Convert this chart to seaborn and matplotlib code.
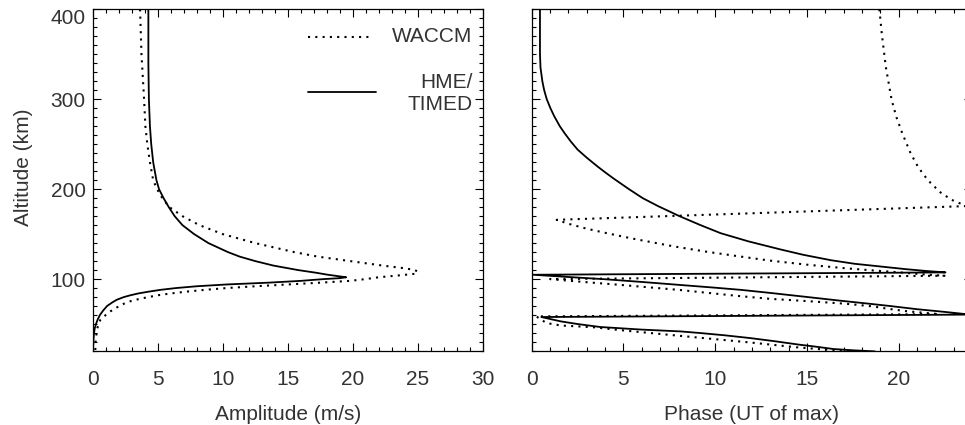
import matplotlib
matplotlib.use("Agg")
import matplotlib.pyplot as plt
from matplotlib.ticker import MultipleLocator
import seaborn as sns

# Amplitude profiles (altitude in km, amplitude in m/s)
amp_alt_hme = [400, 340, 300, 270, 250, 230, 210, 200, 190, 180, 170, 160, 150, 140,
               130, 125, 120, 115, 110, 107, 105, 103, 102, 101, 100, 98, 96, 94, 92,
               90, 88, 86, 84, 82, 80, 77, 74, 70, 65, 60, 55, 50, 45, 40, 35, 30, 25, 20]
amp_hme = [4.28, 4.28, 4.32, 4.4, 4.5, 4.65, 4.9, 5.1, 5.45, 5.85, 6.3, 6.9, 7.8, 8.9,
           10.4, 11.3, 12.5, 13.9, 15.8, 17.2, 18.0, 19.0, 19.5, 19.0, 17.8, 16.0, 13.5, 10.3, 8.0,
           6.4, 5.2, 4.3, 3.5, 2.9, 2.4, 1.85, 1.5, 1.1, 0.8, 0.55, 0.38, 0.25, 0.15, 0.1, 0.07, 0.05, 0.03, 0.02]

amp_alt_waccm = [400, 350, 300, 270, 250, 230, 210, 200, 190, 180, 170, 160, 150, 140,
                 130, 125, 120, 115, 112, 110, 108, 106, 104, 102, 100, 98, 96, 94, 92,
                 90, 88, 86, 84, 82, 80, 78, 75, 72, 68, 64, 60, 55, 50, 45, 40, 35, 30, 25, 20]
amp_waccm = [3.64, 3.75, 3.95, 4.05, 4.2, 4.4, 4.65, 4.95, 5.35, 5.9, 6.9, 8.2, 10.0, 12.5,
             15.5, 17.3, 19.8, 22.3, 24.0, 24.8, 25.0, 24.9, 23.5, 22.0, 21.0, 19.8, 17.5, 15.0, 12.5,
             10.3, 8.6, 7.2, 6.0, 5.0, 4.3, 3.6, 2.8, 2.3, 1.8, 1.35, 1.0, 0.6, 0.45, 0.35, 0.3, 0.25, 0.22, 0.2, 0.2]

# Phase profiles (UT hour of maximum), drawn in data order
phase_alt_hme = [400, 350, 335, 320, 310, 300, 290, 281, 270, 262, 253, 244, 235, 225, 218, 212,
                 200, 190, 181, 170, 160, 151, 142, 133, 127, 121, 117, 114, 111, 109, 107.4,
                 104.8, 102.3, 99.8, 96.8, 93.6, 90.4, 88.0, 84.6, 81.0, 76.0, 73.0, 70.0, 66.5, 63.5, 60.5,
                 57.8, 52.9, 50.0, 46.7, 43.8, 41.8, 40.0, 37.5, 34.4, 31.0, 27.0, 24.8, 22.2, 20.8, 19.6]
phase_hme = [0.45, 0.45, 0.48, 0.58, 0.68, 0.82, 1.02, 1.23, 1.53, 1.8, 2.13, 2.5, 3.0, 3.6, 4.05, 4.45,
             5.3, 6.05, 6.9, 8.05, 9.2, 10.3, 11.8, 13.55, 14.8, 16.3, 17.6, 19.0, 20.4, 21.5, 22.55,
             0.07, 2.0, 4.0, 6.0, 8.0, 10.0, 11.4, 13.0, 14.6, 16.8, 18.2, 19.55, 21.0, 22.5, 23.9,
             0.52, 1.6, 2.5, 3.73, 6.0, 8.1, 9.18, 10.5, 11.9, 13.2, 14.6, 15.5, 16.45, 17.5, 18.7]

phase_alt_waccm = [400, 373, 336, 299, 280, 262, 240, 225, 215, 206.7, 196, 188, 183.7, 181.3,
                   165.9, 161.5, 156.0, 151.0, 145.0, 136.5, 130.5, 125.1, 120.5, 116.0, 112.0, 109.6, 107.5, 105.2, 103.7,
                   100.0, 98.5, 96.0, 93.7, 91.5, 88.0, 81.0, 78.0, 75.5, 72.6, 69.6, 67.0, 64.2, 61.0,
                   58.5, 51.1, 48.3, 47.4, 46.3, 44.0, 41.8, 34.5, 29.5, 23.8, 20.9, 20.0]
phase_waccm = [18.95, 19.08, 19.3, 19.62, 19.88, 20.2, 20.65, 21.05, 21.4, 21.75, 22.3, 22.9, 23.4, 23.9,
               1.36, 2.0, 3.0, 4.1, 5.5, 7.7, 9.5, 11.36, 13.0, 15.0, 17.1, 18.6, 20.0, 21.36, 22.5,
               1.0, 1.82, 3.3, 4.73, 6.0, 8.0, 11.36, 13.0, 15.0, 17.1, 18.6, 19.4, 20.45, 22.2,
               0.25, 0.8, 1.6, 2.5, 3.44, 4.45, 5.54, 9.3, 11.9, 14.6, 16.45, 17.5]

legend_labels = ["WACCM", "HME/\nTIMED"]

sns.set_theme(style="ticks")
plt.rcParams["font.family"] = ["Liberation Sans", "DejaVu Sans"]
text_color = "#333333"
fs = 15

fig = plt.figure(figsize=(9.65, 4.25), dpi=100)
ax1 = fig.add_axes([0.0961, 0.1741, 0.4041, 0.8040])
ax2 = fig.add_axes([0.5510, 0.1741, 0.4563, 0.8040])

dotted = (0, (1, 2.5))
solid_lw = 1.3
dot_lw = 1.5

sns.lineplot(x=amp_waccm, y=amp_alt_waccm, sort=False, estimator=None, ax=ax1,
             color="black", lw=dot_lw, linestyle=dotted)
sns.lineplot(x=amp_hme, y=amp_alt_hme, sort=False, estimator=None, ax=ax1,
             color="black", lw=solid_lw)
sns.lineplot(x=phase_waccm, y=phase_alt_waccm, sort=False, estimator=None, ax=ax2,
             color="black", lw=dot_lw, linestyle=dotted)
sns.lineplot(x=phase_hme, y=phase_alt_hme, sort=False, estimator=None, ax=ax2,
             color="black", lw=solid_lw)

ax1.set_xlim(0, 30)
ax2.set_xlim(0, 24)
for ax in (ax1, ax2):
    ax.set_ylim(20, 400)
    ax.xaxis.set_major_locator(MultipleLocator(5))
    ax.xaxis.set_minor_locator(MultipleLocator(1))
    ax.yaxis.set_major_locator(MultipleLocator(100))
    ax.yaxis.set_minor_locator(MultipleLocator(10))
    ax.tick_params(which="both", direction="in", top=True, right=True,
                   color="black", width=0.8, labelcolor=text_color, labelsize=fs)
    ax.tick_params(which="major", length=5.5)
    ax.tick_params(which="minor", length=3)
    ax.tick_params(axis="x", which="major", pad=14)
    ax.tick_params(axis="y", which="major", pad=5)
    for sp in ax.spines.values():
        sp.set_color("black")
        sp.set_linewidth(0.9)
    ax.set_facecolor("white")

ax2.tick_params(labelleft=False)
ax1.set_ylabel("Altitude (km)", fontsize=fs, color=text_color)
ax1.yaxis.set_label_coords(-0.152, 0.538)
ax1.set_xlabel("Amplitude (m/s)", fontsize=fs, color=text_color, labelpad=11)
ax2.set_xlabel("Phase (UT of max)", fontsize=fs, color=text_color, labelpad=11)
ax2.set_ylabel("")

# The label at the top of the altitude axis hangs below its tick
locs = ax1.yaxis.get_majorticklocs()
for loc, tick in zip(locs, ax1.yaxis.get_major_ticks(len(locs))):
    if loc == 400:
        tick.label1.set_verticalalignment("top")

# Key drawn inside the amplitude panel: sample line on the left, label right-aligned
ax1.plot([0.553, 0.711], [0.92, 0.92], transform=ax1.transAxes,
         color="black", lw=dot_lw, linestyle=dotted)
ax1.plot([0.553, 0.726], [0.759, 0.759], transform=ax1.transAxes,
         color="black", lw=solid_lw)
ax1.text(0.974, 0.92, legend_labels[0], transform=ax1.transAxes, ha="right",
         va="center", fontsize=fs, color=text_color)
ax1.text(0.974, 0.754, legend_labels[1], transform=ax1.transAxes, ha="right",
         va="center", fontsize=fs, color=text_color, linespacing=1.2,
         multialignment="right")

fig.savefig("out.png", dpi=100, facecolor="white")
